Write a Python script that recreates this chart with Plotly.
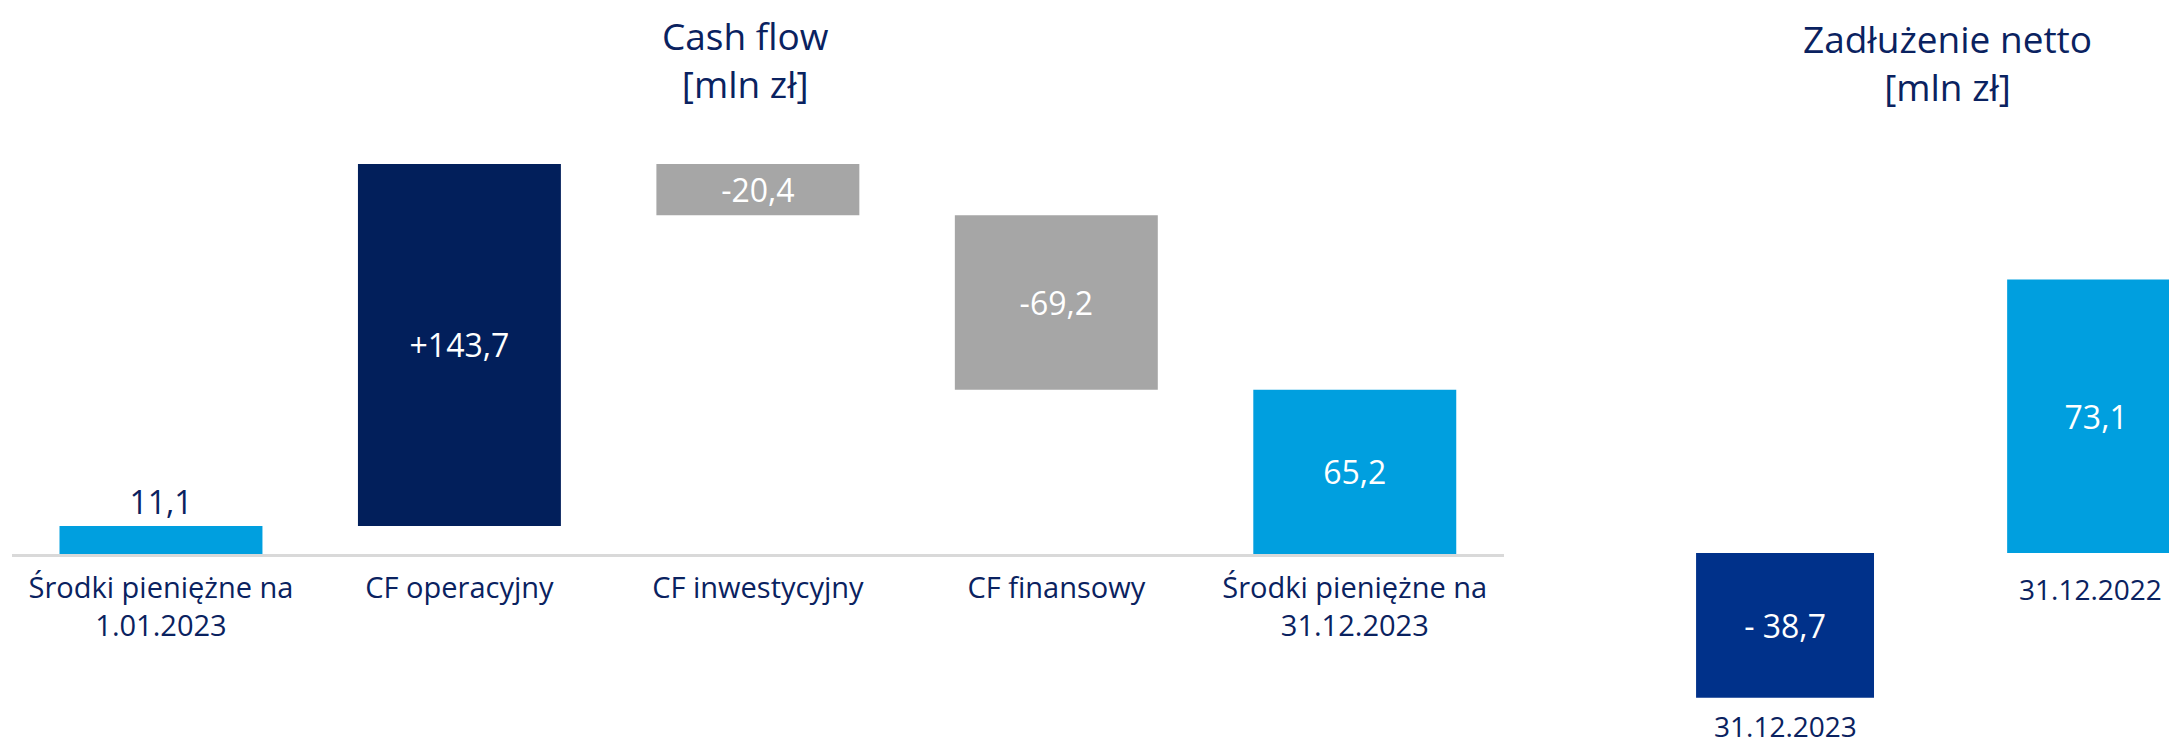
import plotly.graph_objects as go

# ---- data ----
cf_categories = ["Środki pieniężne na<br>1.01.2023", "CF operacyjny", "CF inwestycyjny",
                 "CF finansowy", "Środki pieniężne na<br>31.12.2023"]
cf_values = [11.1, 143.7, -20.4, -69.2, 65.2]
cf_measures = ["absolute", "relative", "relative", "relative", "total"]
cf_text = ["11,1", "+143,7", "-20,4", "-69,2", "65,2"]

debt_categories = ["31.12.2023", "31.12.2022"]
debt_values = [-38.7, 73.1]
debt_text = ["- 38,7", "73,1"]

# ---- styles ----
NAVY_TEXT = "#0A2260"
DARK_NAVY = "#021F5B"
LIGHT_BLUE = "#009FDF"
GREY = "#A6A6A6"
RIGHT_NAVY = "#00318A"
FONT = "Open Sans"

# page body has an 8px margin: draw a figure that is 8px smaller, shift coordinates
OFF = 8
W, H = 2177 - OFF, 745 - OFF


def px_x(p):
    return (p - OFF) / W


def px_y(p):
    return (H - (p - OFF)) / H


fig = go.Figure()

fig.add_trace(go.Waterfall(
    x=list(range(len(cf_categories))),
    y=cf_values,
    measure=cf_measures,
    text=cf_text,
    textinfo="text",
    textposition=["outside", "inside", "inside", "inside", "inside"],
    insidetextanchor="middle",
    constraintext="none",
    insidetextfont=dict(family=FONT, size=32, color="white"),
    outsidetextfont=dict(family=FONT, size=32, color=NAVY_TEXT),
    increasing=dict(marker=dict(color=DARK_NAVY)),
    decreasing=dict(marker=dict(color=GREY)),
    totals=dict(marker=dict(color=LIGHT_BLUE)),
    connector=dict(visible=False),
    width=0.68,
    cliponaxis=False,
    hoverinfo="skip",
    xaxis="x", yaxis="y",
))

fig.add_trace(go.Bar(
    x=list(range(len(debt_categories))),
    y=debt_values,
    text=debt_text,
    textposition="inside",
    insidetextanchor="middle",
    constraintext="none",
    textfont=dict(family=FONT, size=32, color="white"),
    marker=dict(color=[RIGHT_NAVY, LIGHT_BLUE], line=dict(width=0)),
    width=0.572,
    hoverinfo="skip",
    xaxis="x2", yaxis="y2",
))

# right-chart category labels below each bar
annotations = []
for i, (cat, v) in enumerate(zip(debt_categories, debt_values)):
    annotations.append(dict(
        x=i, y=min(0, v), xref="x2", yref="y2", text=cat, showarrow=False,
        xshift=-6 if v > 0 else 0, borderpad=0,
        yanchor="top", yshift=-16 if v > 0 else -8,
        font=dict(family=FONT, size=28, color=NAVY_TEXT)))

# titles
annotations.append(dict(x=px_x(745), y=px_y(8), xref="paper", yref="paper",
                        text="Cash flow<br>[mln zł]", showarrow=False, yanchor="top",
                        xanchor="center", font=dict(family=FONT, size=37, color=NAVY_TEXT)))
annotations.append(dict(x=px_x(1947), y=px_y(11), xref="paper", yref="paper",
                        text="Zadłużenie netto<br>[mln zł]", showarrow=False, yanchor="top",
                        xanchor="center", font=dict(family=FONT, size=37, color=NAVY_TEXT)))

# geometry
left_zero_px, left_scale = 554, 2.52
left_top = 160
right_zero_px, right_scale = 553, 3.74
right_range = [-45, 80]

fig.update_layout(
    width=W, height=H,
    margin=dict(l=0, r=0, t=0, b=0),
    paper_bgcolor="white", plot_bgcolor="white",
    showlegend=False,
    font=dict(family=FONT, color=NAVY_TEXT),
    annotations=annotations,
    xaxis=dict(
        domain=[px_x(11.75), px_x(1504)],
        range=[-0.5, 4.5],
        tickmode="array", tickvals=list(range(len(cf_categories))), ticktext=cf_categories,
        tickfont=dict(family=FONT, size=29, color=NAVY_TEXT),
        ticks="", ticklabelstandoff=6,
        showline=True, linecolor="#D9D9D9", linewidth=3,
        showgrid=False, zeroline=False, fixedrange=True,
    ),
    yaxis=dict(
        domain=[px_y(left_zero_px), px_y(left_zero_px - left_top * left_scale)],
        range=[0, left_top],
        visible=False, showgrid=False, zeroline=False,
    ),
    xaxis2=dict(
        domain=[px_x(1629.5), 1.0],
        range=[-0.5, 1.26],
        visible=False, showgrid=False, zeroline=False,
    ),
    yaxis2=dict(
        domain=[px_y(right_zero_px - right_range[0] * right_scale),
                px_y(right_zero_px - right_range[1] * right_scale)],
        range=right_range,
        visible=False, showgrid=False, zeroline=False,
    ),
)

fig.write_html("out.html")
